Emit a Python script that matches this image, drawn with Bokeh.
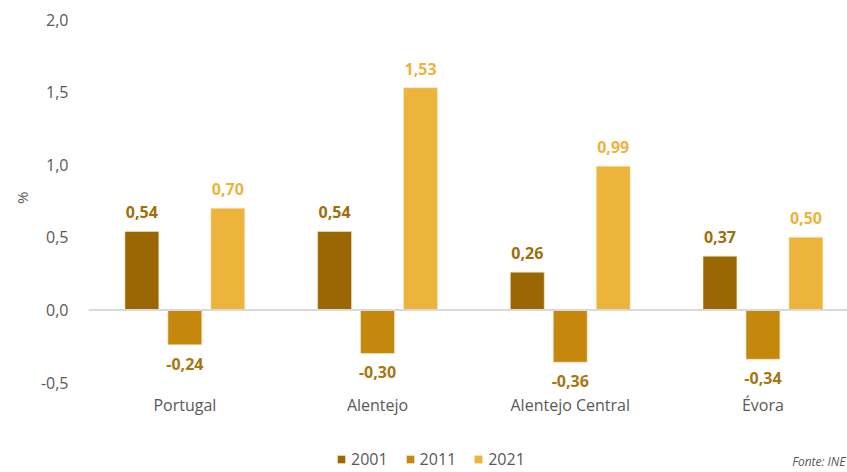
from bokeh.plotting import figure
from bokeh.models import (Range1d, FixedTicker, Span, Legend, LegendItem, Label,
                          ColumnDataSource, Title)
from bokeh.core.properties import value
from bokeh.embed import file_html
from bokeh.resources import INLINE

categories = ["Portugal", "Alentejo", "Alentejo Central", "Évora"]
years = ["2001", "2011", "2021"]
v2001 = [0.54, 0.54, 0.26, 0.37]
v2011 = [-0.24, -0.30, -0.36, -0.34]
v2021 = [0.70, 1.53, 0.99, 0.50]
y_ticks = [-0.5, 0.0, 0.5, 1.0, 1.5, 2.0]
y_tick_labels = ["-0,5", "0,0", "0,5", "1,0", "1,5", "2,0"]
y_title = "%"
source_note = "Fonte: INE"

bar_colors = ["#9A6703", "#C6880C", "#ECB43A"]
label_colors = ["#A06E0C", "#A87610", "#ECB43A"]
TEXT_GREY = "#595959"
FONT = "Open Sans"

W, H = 847, 472
LEFT, TOP = 88, 19
PX_PER_UNIT = 145.2      # vertical scale of the value axis
CAT_PX = 192.7           # width of one category slot
y_top = 2.0
y_bottom = y_top - (H - TOP) / PX_PER_UNIT

p = figure(width=W, height=H, output_backend="svg", toolbar_location=None,
           x_axis_location=None,
           x_range=Range1d(0, (W - LEFT) / CAT_PX), y_range=Range1d(y_bottom, y_top),
           min_border_left=LEFT, min_border_right=0, min_border_top=TOP,
           min_border_bottom=0)
p.outline_line_color = None
p.grid.visible = False
p.background_fill_color = "white"

offsets = [-0.223, 0.0, 0.223]
series = [v2001, v2011, v2021]
renderers = []
for i, vals in enumerate(series):
    xs = [c + 0.5 + offsets[i] for c in range(len(categories))]
    labs = [f"{v:.2f}".replace(".", ",") for v in vals]
    src = ColumnDataSource(dict(x=xs, top=vals))
    r = p.vbar(x="x", top="top", bottom=0, width=0.176, source=src,
               fill_color=bar_colors[i], line_color="#F5E6C8", line_width=0.6)
    renderers.append(r)
    pos = [v >= 0 for v in vals]
    src_pos = ColumnDataSource(dict(x=[x for x, k in zip(xs, pos) if k],
                                    y=[v for v, k in zip(vals, pos) if k],
                                    lab=[l for l, k in zip(labs, pos) if k]))
    src_neg = ColumnDataSource(dict(x=[x for x, k in zip(xs, pos) if not k],
                                    y=[v for v, k in zip(vals, pos) if not k],
                                    lab=[l for l, k in zip(labs, pos) if not k]))
    p.text(x="x", y="y", text="lab", source=src_pos, text_align="center",
           text_baseline="bottom", y_offset=-13, text_font=value(FONT),
           text_font_size="16px", text_font_style="bold", text_color=label_colors[i])
    p.text(x="x", y="y", text="lab", source=src_neg, text_align="center",
           text_baseline="top", y_offset=13, text_font=value(FONT),
           text_font_size="16px", text_font_style="bold", text_color=label_colors[i])

p.add_layout(Span(location=0, dimension="width", line_color="#D9D9D9", line_width=2))

# category labels under the value axis minimum
cat_src = ColumnDataSource(dict(x=[c + 0.5 for c in range(len(categories))],
                                y=[y_ticks[0]] * len(categories), name=categories))
p.text(x="x", y="y", text="name", source=cat_src, text_align="center",
       text_baseline="middle", y_offset=22, text_font=value(FONT),
       text_font_size="16px", text_color=TEXT_GREY)

# y axis
p.yaxis.ticker = FixedTicker(ticks=y_ticks)
p.yaxis.major_label_overrides = {t: l for t, l in zip(y_ticks, y_tick_labels)}
p.yaxis.axis_line_color = None
p.yaxis.major_tick_line_color = None
p.yaxis.minor_tick_line_color = None
p.yaxis.major_label_standoff = 14
p.yaxis.major_label_text_font = FONT
p.yaxis.major_label_text_font_size = "16px"
p.yaxis.major_label_text_color = TEXT_GREY

p.add_layout(Title(text=y_title, align="right", offset=172, standoff=12,
                   text_font=FONT, text_font_size="15px", text_font_style="normal",
                   text_color=TEXT_GREY), "left")

legend = Legend(items=[LegendItem(label=y, renderers=[r]) for y, r in zip(years, renderers)],
                orientation="horizontal", location=(248, 2),
                glyph_width=10, glyph_height=10, label_standoff=5, spacing=17,
                padding=0, margin=0, border_line_color=None, background_fill_alpha=0,
                label_text_font=FONT, label_text_font_size="16px",
                label_text_color=TEXT_GREY)
p.add_layout(legend)

p.add_layout(Label(x=W - LEFT - 2, y=3, x_units="screen", y_units="screen",
                   text=source_note, text_align="right",
                   text_font=FONT, text_font_size="12px", text_font_style="italic",
                   text_color=TEXT_GREY))

open("out.html", "w").write(file_html(p, INLINE))
